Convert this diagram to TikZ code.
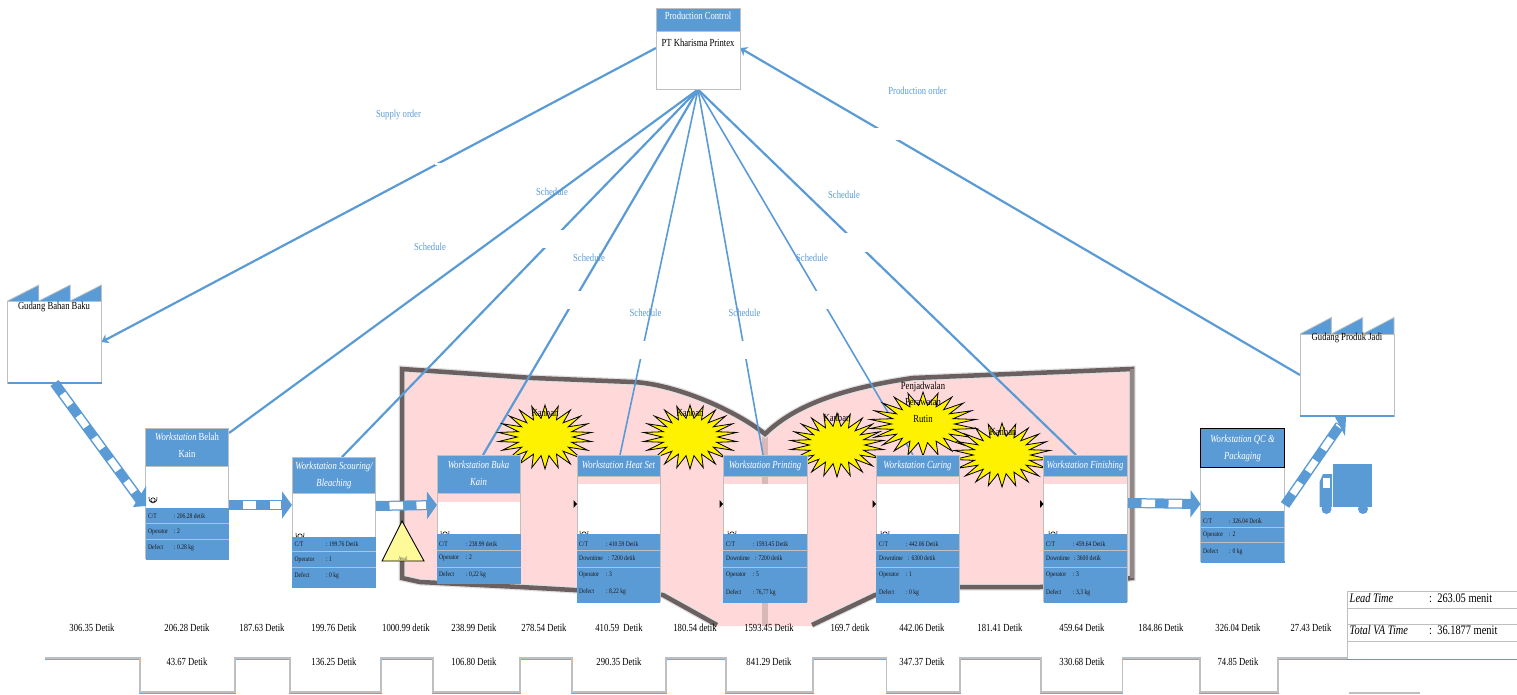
\documentclass[tikz,border=0pt]{standalone}
\usepackage{fontspec}
\setmainfont[FakeStretch=0.8]{Liberation Serif}
\usetikzlibrary{arrows.meta,shapes.geometric}
\definecolor{vsb}{HTML}{5B9BD5}
\definecolor{vsg}{HTML}{BFBFBF}
\definecolor{vsp}{HTML}{FFD9D9}
\definecolor{vsd}{HTML}{6B5F5F}
\pgfdeclarelayer{bg}
\pgfdeclarelayer{mid}
\pgfsetlayers{bg,mid,main}
\tikzset{
  hdr/.style={fill=vsb,draw=vsg,line width=.8pt,inner sep=0pt,outer sep=0pt,anchor=north west},
  bodyw/.style={fill=white,inner sep=0pt,outer sep=0pt,anchor=north west},
  datab/.style={fill=vsb,inner sep=0pt,outer sep=0pt,anchor=north west},
  hdrtxt/.style={font=\fontsize{10.8}{17}\selectfont\itshape,text=white,align=center,inner sep=0pt,anchor=north},
  rowtxt/.style={font=\fontsize{7}{8}\selectfont,text=black!90,inner sep=0pt,anchor=west},
  lbl/.style={font=\fontsize{10.8}{12}\selectfont,text=vsb,inner sep=0pt},
  conn/.style={draw=vsb,line width=2.2pt},
  connthin/.style={draw=vsb,line width=1.6pt},
  burst/.style={star,star points=22,star point ratio=1.7,draw=black,fill=yellow,line width=.8pt,inner sep=0pt,transform shape},
  blk/.style={font=\fontsize{10.8}{12}\selectfont,text=black,inner sep=0pt},
  tltxt/.style={font=\fontsize{10.8}{12}\selectfont,text=black,inner sep=0pt},
}
% id x1 x2 top hbot wtop dtop bot
\newcommand{\wsbox}[8]{%
  \node[bodyw,minimum width=#3-#2,minimum height=#7-#6] (#1-b) at (#2,#6) {};
  \node[datab,minimum width=#3-#2,minimum height=#8-#7] (#1-d) at (#2,#7) {};
  \draw[vsg,line width=.8pt] (#2,#4) -- (#2,#8) (#3,#4) -- (#3,#8);
  \draw[vsb,line width=1.2pt] (#2,#8) -- (#3,#8);
  \node[hdr,minimum width=#3-#2,minimum height=#5-#4] (#1) at (#2,#4) {};
}
\newcommand{\wsl}[4]{\draw[vsg,line width=.8pt] (#1,#3) -- (#2,#3) (#1,#4) -- (#2,#4);}
% id x y tabwidth label value
\newcommand{\wsr}[6]{\node[rowtxt] (#1) at (#2,#3) {\makebox[#4pt][l]{#5}#6};}
\newcommand{\opicon}[2]{%
  \draw[black,line width=.6pt] (#1,#2) circle (2.2);
  \draw[black,line width=.6pt] (#1-4,#2-3) .. controls (#1-4.5,#2+5) and (#1+4.5,#2+5) .. (#1+4,#2-3);
}
\newcommand{\pushar}[2]{%
  \draw[vsb,line width=10pt,-{Triangle[width=27pt,length=10pt]}] (#1) -- (#2);
  \draw[white,line width=7.5pt,dash pattern=on 13.5pt off 13.5pt,dash phase=13.5pt,shorten >=11pt] (#1) -- (#2);
}
\newcommand{\pushshaft}[2]{%
  \draw[vsb,line width=10pt] (#1) -- (#2);
  \draw[white,line width=7pt,dash pattern=on 13.5pt off 13.5pt,dash phase=13.5pt,shorten >=1pt] (#1) -- (#2);
}
\newcommand{\factory}[5]{% id x1 x2 roof body
  \pgfmathsetmacro{\fa}{#2+(#3-#2)/3}\pgfmathsetmacro{\fb}{#2+2*(#3-#2)/3}
  \fill[vsb] (#2,#5) -- (\fa,#4) -- (\fa,#5) -- cycle (\fa,#5) -- (\fb,#4) -- (\fb,#5) -- cycle (\fb,#5) -- (#3,#4) -- (#3,#5) -- cycle;
  \draw[vsg,line width=.8pt] (#2,#5) -- (\fa,#4) -- (\fa,#5) (\fa,#5) -- (\fb,#4) -- (\fb,#5) (\fb,#5) -- (#3,#4) -- (#3,#5);
  \node[draw=vsg,fill=white,line width=.8pt,inner sep=0pt,outer sep=0pt,anchor=north west,minimum width=#3-#2,minimum height=82] (#1) at (#2,#5) {};
  \draw[vsb,line width=1.6pt] (#2,#5+82) -- (#3,#5+82);
}
\begin{document}
\begin{tikzpicture}[x=1pt,y=-1pt]
\useasboundingbox (0,0) rectangle (1517,695);

%%% nodes in the main layer
% production control
\node[bodyw,draw=vsg,line width=.8pt,minimum width=84,minimum height=58.5] (pc) at (656,31) {};
\node[hdr,minimum width=84,minimum height=23] (pch) at (656,8) {};
\node[blk,text=white] (pct) at (698,15.5) {Production Control};
\node[blk] (pcb) at (698,43) {PT Kharisma Printex};

% factories
\factory{gbb}{7.5}{101.5}{285}{301}
\node[blk] (gbbt) at (54,307) {Gudang Bahan Baku};
\factory{gpj}{1300}{1394}{317.5}{334}
\node[blk] (gpjt) at (1347,338) {Gudang Produk Jadi};

% operator icons and stations
\wsbox{be}{145.5}{228.5}{428.5}{466}{466}{508}{559}
\opicon{153}{500}
\wsbox{sc}{292}{375.5}{457}{493}{493}{537}{587}
\opicon{300}{536}
\wsbox{bu}{437}{520.5}{455}{493}{502}{534}{583}
\opicon{445}{534}
\wsbox{hs}{577}{660}{455}{476}{484}{534}{602}
\opicon{584}{534}
\wsbox{pr}{723}{807}{455}{476}{484}{534}{602}
\opicon{732}{534}
\wsbox{cu}{876}{959}{455}{476}{484}{534}{602}
\opicon{885}{534}
\wsbox{fi}{1043.5}{1127}{455}{476}{484}{534}{602}
\opicon{1053}{534}
\wsbox{qc}{1200.5}{1284.5}{428.5}{467}{467}{511}{562}
\draw[black,line width=.9pt] (qc.north west) rectangle (qc.south east);

% re-lay the data strips over the icons
\foreach \i/\a/\b/\c/\d in {be/145.5/228.5/508/559,sc/292/375.5/537/587,bu/437/520.5/534/583,hs/577/660/534/602,pr/723/807/534/602,cu/876/959/534/602,fi/1043.5/1127/534/602}{
  \fill[vsb] (\a,\c) rectangle (\b,\d);
}
\wsl{145.5}{228.5}{523}{539}
\wsl{292}{375.5}{551}{567}
\wsl{437}{520.5}{550}{567}
\wsl{577}{660}{550}{567}
\wsl{723}{807}{550}{567}
\wsl{876}{959}{550}{567}
\wsl{1043.5}{1127}{550}{567}
\wsl{1200.5}{1284.5}{527}{542}

% header texts
\node[hdrtxt] (be-t) at (187,433) {Workstation {\upshape Belah}\\{\upshape Kain}};
\node[hdrtxt] (sc-t) at (334,461.5) {Workstation Scouring/\\Bleaching};
\node[hdrtxt] (bu-t) at (478.5,460.5) {Workstation Buka\\Kain};
\node[hdrtxt] (hs-t) at (618.5,460.5) {Workstation Heat Set};
\node[hdrtxt] (pr-t) at (765,460.5) {Workstation Printing};
\node[hdrtxt] (cu-t) at (917.5,460.5) {Workstation Curing};
\node[hdrtxt] (fi-t) at (1085,460.5) {Workstation Finishing};
\node[hdrtxt] (qc-t) at (1242.5,434.5) {Workstation QC \&\\Packaging};

% data rows
\wsr{be1}{148}{516}{25.5}{C/T}{: 206.28 detik}
\wsr{be2}{148}{532}{25.5}{Operator}{: 2}
\wsr{be3}{148}{548}{25.5}{Defect}{: 0.28 kg}
\wsr{sc1}{294.5}{544}{31}{C/T}{: 199.76 Detik}
\wsr{sc2}{294.5}{560}{31}{Operator}{: 1}
\wsr{sc3}{294.5}{576}{31}{Defect}{: 0 kg}
\wsr{bu1}{439}{544}{26.5}{C/T}{: 238.99 detik}
\wsr{bu2}{439}{558}{26.5}{Operator}{: 2}
\wsr{bu3}{439}{575}{26.5}{Defect}{: 0,22 kg}
\wsr{hs1}{579}{544}{26.5}{C/T}{: 410.59 Detik}
\wsr{hs2}{579}{558}{29}{Downtime}{: 7200 detik}
\wsr{hs3}{579}{575}{26.5}{Operator}{: 3}
\wsr{hs4}{579}{592}{26.5}{Defect}{: 8,22 kg}
\wsr{pr1}{726}{544}{26.5}{C/T}{: 1593.45 Detik}
\wsr{pr2}{726}{558}{29}{Downtime}{: 7200 detik}
\wsr{pr3}{726}{575}{26.5}{Operator}{: 5}
\wsr{pr4}{726}{593}{26.5}{Defect}{: 76,77 kg}
\wsr{cu1}{879}{544}{26.5}{C/T}{: 442.06 Detik}
\wsr{cu2}{879}{558}{29}{Downtime}{: 6300 detik}
\wsr{cu3}{879}{575}{26.5}{Operator}{: 1}
\wsr{cu4}{879}{593}{26.5}{Defect}{: 0 kg}
\wsr{fi1}{1046}{544}{26.5}{C/T}{: 459.64 Detik}
\wsr{fi2}{1046}{558}{27.5}{Downtime}{: 3600 detik}
\wsr{fi3}{1046}{575}{26.5}{Operator}{: 3}
\wsr{fi4}{1046}{593}{26.5}{Defect}{: 3,3 kg}
\wsr{qc1}{1203}{521}{26}{C/T}{: 326.04 Detik}
\wsr{qc2}{1203}{535}{26}{Operator}{: 2}
\wsr{qc3}{1203}{552}{26}{Defect}{: 0 kg}

% small black pointers
\foreach \x in {577,723,876,1043.5}{\fill[black] (\x-3.5,500) -- (\x,504) -- (\x-3.5,508) -- cycle;}

% inventory triangle
\draw[black,fill=yellow!40!white,line width=.9pt,line join=miter] (402,521) -- (424,561) -- (382,561) -- cycle;
\node[font=\fontsize{5.5}{6}\selectfont,text=black!70,inner sep=0pt] (inv) at (403,559) {Awal};

% connection points
\coordinate (be-s) at (229,433);
\coordinate (sc-s) at (342,457);
\coordinate (bu-s) at (483,455);
\coordinate (hs-s) at (620,455);
\coordinate (pr-s) at (763,455);
\coordinate (cu-s) at (913,455);
\coordinate (fi-s) at (1076,455);
\coordinate (pc-so) at (656,48);
\coordinate (pc-po) at (740,48);
\coordinate (be-in) at (140,500);
\coordinate (be-out) at (229,505);
\coordinate (sc-in) at (292,505);
\coordinate (sc-out) at (376,506);
\coordinate (bu-in) at (437,505);
\coordinate (fi-out) at (1128,503);
\coordinate (qc-in) at (1200.5,504);
\coordinate (qc-out) at (1285,505);
\coordinate (gpj-in) at (1340,425);

% push arrows
\pushshaft{gbb.south}{be-in}
\fill[vsb] (133,507) -- (146,506) -- (146,486) -- cycle;
\pushar{be-out}{sc-in}
\pushar{sc-out}{bu-in}
\pushar{fi-out}{qc-in}
\pushshaft{qc-out}{gpj-in}
\fill[vsb] (1335,417) -- (1346,417) -- (1345,436) -- cycle;

% truck
\fill[vsb] (1333,464) rectangle (1372,507);
\fill[vsb] (1319.5,507) -- (1319.5,482) -- (1323,474) -- (1332,474) -- (1332,507) -- cycle;
\fill[white] (1323,478) rectangle (1329.5,488);
\fill[vsb] (1326.5,509) circle (5) (1363,509) circle (5);

% labels
\node[lbl] (so) at (398.5,114.5) {Supply order};
\node[lbl] (po) at (917.5,90.5) {Production order};
\node[lbl] (s1) at (430,247) {Schedule};
\node[lbl] (s2) at (552,191.5) {Schedule};
\node[lbl] (s3) at (589,258) {Schedule};
\node[lbl] (s4) at (645.5,313) {Schedule};
\node[lbl] (s5) at (744.5,313) {Schedule};
\node[lbl] (s6) at (812,258) {Schedule};
\node[lbl] (s7) at (844,195) {Schedule};

% kanban texts
\node[blk] (k1) at (545,412.5) {Kanban};
\node[blk] (k2) at (690,412.5) {Kanban};
\node[blk] (k3) at (837,418) {Kanban};
\node[blk] (k5) at (1003,432) {Kanban};
\node[blk,align=center,font=\fontsize{10.8}{16.5}\selectfont] (k4) at (923,402) {Penjadwalan\\Perawatan\\Rutin};

% timeline
\def\steppath{(45,658) -- (140,658) -- (140,692) -- (235,692) -- (235,658) -- (290,658) -- (290,692) -- (381,692) -- (381,658) -- (433,658) -- (433,692) -- (520,692) -- (520,658) -- (572,658) -- (572,692) -- (666,692) -- (666,658) -- (726,658) -- (726,692) -- (813,692) -- (813,658) -- (886.5,658) -- (886.5,692) -- (960,692) -- (960,658) -- (1041,658) -- (1041,692) -- (1122.5,692) -- (1122.5,658) -- (1200,658) -- (1200,692) -- (1278,692) -- (1278,658) -- (1347,658)}
\begin{scope}[yshift=-1.4pt]
\draw[vsb!85!white,line width=1.1pt] \steppath;
\end{scope}
\draw[vsg,line width=1.3pt] \steppath;
\foreach \x/\t [count=\i] in {92/306.35 Detik,187/206.28 Detik,262/187.63 Detik,334/199.76 Detik,406/1000.99 detik,474/238.99 Detik,544/278.54 Detik,619/410.59\ \ Detik,695/180.54 detik,769/1593.45 Detik,850/169.7 detik,922/442.06 Detik,1000/181.41 Detik,1082/459.64 Detik,1161/184.86 Detik,1238/326.04 Detik,1311/27.43 Detik}{
  \node[tltxt] (tu\i) at (\x,628) {\t};
}
\foreach \x/\t [count=\i] in {187/43.67 Detik,334/136.25 Detik,474/106.80 Detik,619/290.35 Detik,769/841.29 Detik,922/347.37 Detik,1082/330.68 Detik,1238/74.85 Detik}{
  \node[tltxt] (tl\i) at (\x,661.5) {\t};
}

% summary table
\draw[vsg,line width=.8pt] (1347,659) -- (1347,591) -- (1517,591) (1347,608) -- (1517,608) (1347,624) -- (1517,624) (1347,641) -- (1517,641);
\draw[vsb,line width=1.6pt] (1347,659.5) -- (1517,659.5);
\draw[vsg,line width=1.2pt] (1349,693) -- (1420,693);
\node[font=\fontsize{13}{14}\selectfont\itshape,inner sep=0pt,anchor=west] (lt) at (1349.5,598.5) {Lead Time};
\node[font=\fontsize{13}{14}\selectfont,inner sep=0pt,anchor=west] (ltv) at (1429,598.5) {:\ \ 263.05 menit};
\node[font=\fontsize{13}{14}\selectfont\itshape,inner sep=0pt,anchor=west] (va) at (1349.5,630.5) {Total VA Time};
\node[font=\fontsize{13}{14}\selectfont,inner sep=0pt,anchor=west] (vav) at (1429,630.5) {:\ \ 36.1877 menit};

%%% mid layer: bursts
\begin{pgfonlayer}{mid}
\node[burst,minimum size=64,xscale=1.47] (st1) at (545,437) {};
\node[burst,minimum size=64,xscale=1.47] (st2) at (690,437) {};
\node[burst,minimum size=64,xscale=1.47] (st3) at (837,445) {};
\node[burst,minimum size=64,xscale=1.67] (st4) at (923,424) {};
\node[burst,minimum size=64,xscale=1.52] (st5) at (1002,455) {};
\end{pgfonlayer}

%%% background layer: book, connectors
\begin{pgfonlayer}{bg}
\fill[vsp] (402,369) -- (533,378) -- (633,382) .. controls (675,384) and (735,410) .. (765,434) .. controls (790,410) and (830,390) .. (913,378) -- (1132,369) -- (1132,578) -- (1040,587) -- (960,587) -- (875,595) -- (812,626) -- (717,626) -- (663,595) -- (520,587) -- (420,582) -- (402,578) -- cycle;
\fill[vsp!85!black] (762,434) -- (768,434) -- (768,626) -- (762,626) -- cycle;
\def\bandpath{(717,625) -- (663,595) -- (520,587) -- (420,582) -- (402,578) -- (402,369) -- (533,378) -- (633,382) .. controls (675,384) and (735,410) .. (765,434) .. controls (790,410) and (830,390) .. (913,378) -- (1132,369) -- (1132,578) -- (1040,587) -- (960,587) -- (875,595) -- (812,625)}
\draw[black!12,line width=7pt,line join=miter] \bandpath;
\draw[vsd,line width=4.5pt,line join=miter] \bandpath;
\draw[vsd!75!white,line width=4.5pt] (1132,369) -- (1132,578);
% connectors
\draw[conn] (pc.south) -- (be-s);
\draw[conn] (pc.south) -- (sc-s);
\draw[conn] (pc.south) -- (bu-s);
\draw[connthin] (pc.south) -- (hs-s);
\draw[connthin] (pc.south) -- (pr-s);
\draw[connthin] (pc.south) -- (cu-s);
\draw[conn] (pc.south) -- (fi-s);
\draw[conn,-{Stealth[width=10pt,length=7pt]}] (pc-so) -- (gbb.east);
\draw[conn,-{Stealth[width=10pt,length=7pt]}] (gpj.west) -- (pc-po);
% cuts where white cells lie over the connectors
\fill[white] (435,163.3) rectangle (443,165.5);
\fill[white] (535,230) rectangle (575,248);
\fill[white] (560,291) rectangle (590,309);
\fill[white] (625,341) rectangle (655,359);
\fill[white] (735,341) rectangle (760,359);
\fill[white] (810,291) rectangle (835,309);
\fill[white] (840,233) rectangle (875,252);
\fill[white] (868,128.3) rectangle (902,140);
\end{pgfonlayer}
\end{tikzpicture}
\end{document}
